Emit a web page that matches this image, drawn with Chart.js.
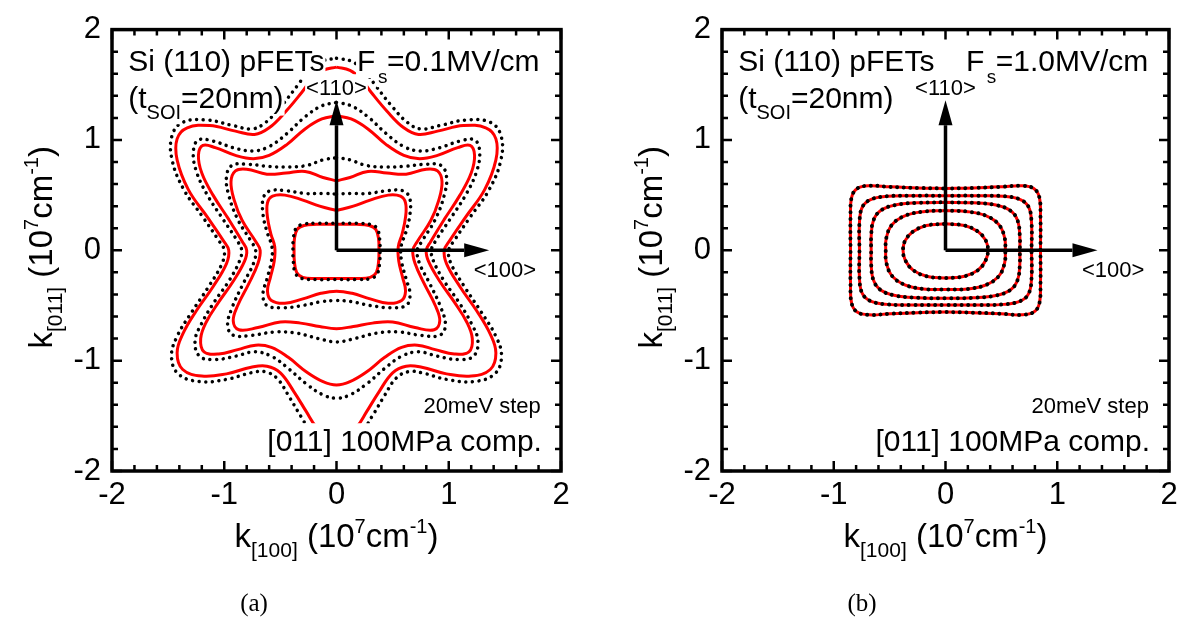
<!DOCTYPE html>
<html>
<head>
<meta charset="utf-8">
<script src="https://cdn.jsdelivr.net/npm/chart.js@4.4.1/dist/chart.umd.min.js"></script>
<style>
  html, body { margin: 0; padding: 0; background: #fff; }
  #wrap { position: relative; width: 1184px; height: 624px; }
  .pane { position: absolute; top: 0; }
  .cap { position: absolute; top: 589px; width: 80px; text-align: center;
         font: 25px "Liberation Serif", "DejaVu Serif", serif; color: #000; }
</style>
</head>
<body>
<div id="wrap">
  <canvas id="chartA" class="pane" style="left:0" width="600" height="624"></canvas>
  <canvas id="chartB" class="pane" style="left:600px" width="584" height="624"></canvas>
  <div class="cap" style="left:214px">(a)</div>
  <div class="cap" style="left:822px">(b)</div>
</div>
<script>
// right halves of each constant-energy contour, [k100, k011]
// (top of the contour at k100 = 0 down to its bottom; the left half is the mirror image)

// (a) Fs = 0.1MV/cm, solid red
const redA1 = [[0,0.235],[0.18,0.235],[0.29,0.225],[0.35,0.19],[0.375,0.1],[0.378,0],[0.375,-0.1],[0.355,-0.2],[0.3,-0.245],[0.18,-0.255],[0,-0.255]];
const redA2 = [[0,0.36],[0.15,0.40],[0.30,0.455],[0.46,0.50],[0.57,0.49],[0.615,0.43],[0.615,0.30],[0.585,0.15],[0.55,0.03],[0.555,-0.1],[0.59,-0.25],[0.615,-0.37],[0.58,-0.455],[0.46,-0.48],[0.30,-0.44],[0.14,-0.39],[0,-0.37]];
const redA3 = [[0,0.63],[0.12,0.66],[0.28,0.715],[0.45,0.70],[0.62,0.69],[0.8,0.735],[0.9,0.72],[0.94,0.62],[0.91,0.45],[0.84,0.27],[0.72,0.08],[0.68,0],[0.70,-0.12],[0.78,-0.3],[0.88,-0.5],[0.92,-0.64],[0.87,-0.72],[0.7,-0.7],[0.5,-0.65],[0.32,-0.66],[0.15,-0.69],[0,-0.71]];
const redA4 = [[0,1.22],[0.13,1.19],[0.28,1.1],[0.44,0.96],[0.6,0.86],[0.74,0.83],[0.9,0.86],[1.08,0.93],[1.19,0.95],[1.23,0.86],[1.2,0.7],[1.1,0.5],[0.96,0.28],[0.84,0.08],[0.8,0],[0.82,-0.1],[0.92,-0.28],[1.05,-0.47],[1.16,-0.65],[1.21,-0.8],[1.18,-0.92],[1.05,-0.94],[0.88,-0.9],[0.72,-0.86],[0.58,-0.88],[0.43,-0.97],[0.27,-1.1],[0.12,-1.19],[0,-1.22]];
const redA5 = [[0,1.66],[0.12,1.63],[0.22,1.55],[0.31,1.43],[0.45,1.26],[0.6,1.11],[0.73,1.05],[0.9,1.08],[1.13,1.13],[1.33,1.11],[1.42,1.01],[1.42,0.82],[1.32,0.55],[1.15,0.3],[1.01,0.09],[0.96,0],[0.98,-0.12],[1.1,-0.33],[1.25,-0.55],[1.37,-0.76],[1.42,-0.93],[1.37,-1.08],[1.2,-1.14],[0.98,-1.12],[0.76,-1.06],[0.62,-1.05],[0.5,-1.11],[0.38,-1.28],[0.27,-1.46],[0.18,-1.6],[0.08,-1.66],[0,-1.67]];

// (a) dotted black
const dotA1 = [[0,0.245],[0.18,0.245],[0.3,0.235],[0.36,0.2],[0.385,0.1],[0.388,0],[0.385,-0.1],[0.365,-0.21],[0.31,-0.255],[0.18,-0.265],[0,-0.265]];
const dotA2 = [[0,0.51],[0.12,0.515],[0.28,0.515],[0.45,0.54],[0.59,0.54],[0.65,0.48],[0.655,0.33],[0.62,0.17],[0.575,0.03],[0.58,-0.1],[0.62,-0.26],[0.655,-0.4],[0.62,-0.5],[0.47,-0.52],[0.3,-0.5],[0.13,-0.465],[0,-0.455]];
const dotA3 = [[0,0.84],[0.12,0.82],[0.26,0.77],[0.42,0.755],[0.6,0.76],[0.8,0.78],[0.93,0.77],[0.98,0.67],[0.96,0.5],[0.88,0.28],[0.76,0.08],[0.72,0],[0.74,-0.12],[0.83,-0.3],[0.93,-0.52],[0.97,-0.68],[0.92,-0.77],[0.75,-0.77],[0.55,-0.74],[0.36,-0.75],[0.16,-0.8],[0,-0.83]];
const dotA4 = [[0,1.34],[0.13,1.31],[0.28,1.21],[0.44,1.06],[0.6,0.94],[0.75,0.9],[0.92,0.93],[1.1,0.99],[1.23,1.0],[1.275,0.9],[1.25,0.72],[1.15,0.5],[1.01,0.28],[0.88,0.08],[0.845,0],[0.865,-0.1],[0.96,-0.28],[1.09,-0.47],[1.2,-0.66],[1.26,-0.82],[1.22,-0.96],[1.08,-0.99],[0.9,-0.96],[0.73,-0.92],[0.58,-0.96],[0.43,-1.07],[0.27,-1.21],[0.12,-1.31],[0,-1.34]];
const dotA5 = [[0,1.74],[0.14,1.71],[0.26,1.61],[0.35,1.49],[0.49,1.31],[0.63,1.16],[0.75,1.1],[0.92,1.13],[1.15,1.18],[1.37,1.16],[1.465,1.04],[1.465,0.82],[1.36,0.55],[1.19,0.3],[1.05,0.09],[1.0,0],[1.02,-0.12],[1.14,-0.33],[1.29,-0.56],[1.42,-0.78],[1.47,-0.96],[1.41,-1.12],[1.22,-1.19],[0.98,-1.17],[0.76,-1.11],[0.64,-1.1],[0.53,-1.16],[0.42,-1.33],[0.32,-1.5],[0.22,-1.65],[0.1,-1.72],[0,-1.74]];

// (b) Fs = 1.0MV/cm, red and dotted lie on top of each other
const curB1 = [[0,0.24],[0.17,0.225],[0.29,0.17],[0.36,0.09],[0.38,0],[0.36,-0.09],[0.29,-0.18],[0.17,-0.235],[0,-0.25]];
const curB2 = [[0,0.36],[0.2,0.35],[0.37,0.31],[0.48,0.23],[0.53,0.11],[0.535,0],[0.53,-0.11],[0.48,-0.23],[0.37,-0.31],[0.2,-0.35],[0,-0.355]];
const curB3 = [[0,0.435],[0.25,0.43],[0.45,0.41],[0.58,0.36],[0.645,0.27],[0.665,0.13],[0.665,0],[0.665,-0.13],[0.645,-0.27],[0.58,-0.36],[0.45,-0.41],[0.25,-0.43],[0,-0.435]];
const curB4 = [[0,0.495],[0.3,0.495],[0.52,0.49],[0.67,0.46],[0.745,0.39],[0.77,0.25],[0.77,0],[0.77,-0.25],[0.745,-0.39],[0.67,-0.46],[0.52,-0.49],[0.3,-0.495],[0,-0.495]];
const curB5 = [[0,0.56],[0.25,0.565],[0.5,0.575],[0.68,0.585],[0.79,0.56],[0.84,0.48],[0.85,0.3],[0.85,0],[0.85,-0.3],[0.84,-0.48],[0.79,-0.56],[0.68,-0.585],[0.5,-0.575],[0.25,-0.565],[0,-0.56]];

// axis range and ticks
const axisMin = -2, axisMax = 2, majorStep = 1, minorStep = 0.2;
// crystal direction arrows (tip of each, from the origin)
const arrowTips = [[0, 1.36], [1.36, 0]];

const fieldA = '=0.1MV/cm';
const fieldB = '=1.0MV/cm';

const FONT = '"Liberation Sans", Arial, sans-serif';

// mirror a right half into a closed loop
function loop(half) {
  const right = half.map(p => ({x: p[0], y: p[1]}));
  const left = half.slice(0, -1).reverse().map(p => ({x: -p[0], y: p[1]}));
  return right.concat(left);
}

function redSet(half) {
  return { data: loop(half), showLine: true, pointRadius: 0, borderColor: '#ff0000',
           borderWidth: 3, tension: 0.4, fill: false };
}
function dotSet(half, w) {
  return { data: loop(half), showLine: true, pointRadius: 0, borderColor: '#000',
           borderWidth: w, borderDash: [0.01, 6.6], borderCapStyle: 'round', tension: 0.4, fill: false };
}

// text made of runs: [text, size, dy]
function drawRich(ctx, parts, x, y, align, bg) {
  let w = 0;
  const ws = parts.map(p => {
    ctx.font = p[1] + 'px ' + FONT;
    const m = ctx.measureText(p[0]).width;
    w += m;
    return m;
  });
  let cx = align === 'center' ? x - w / 2 : align === 'right' ? x - w : x;
  const x0 = cx;
  if (bg) {
    ctx.fillStyle = '#fff';
    parts.forEach((p, i) => {
      ctx.fillRect(cx - 1, y + p[2] - p[1] * 0.93, ws[i] + 2, p[1] * 1.17);
      cx += ws[i];
    });
    cx = x0;
  }
  ctx.fillStyle = '#000';
  ctx.textBaseline = 'alphabetic';
  ctx.textAlign = 'left';
  parts.forEach((p, i) => {
    ctx.font = p[1] + 'px ' + FONT;
    ctx.fillText(p[0], cx, y + p[2]);
    cx += ws[i];
  });
}

const decor = {
  id: 'decor',
  afterDatasetsDraw(chart, args, opts) {
    const {ctx, chartArea: a, scales: {x, y}} = chart;
    ctx.save();
    // arrows
    const ox = x.getPixelForValue(0), oy = y.getPixelForValue(0);
    ctx.strokeStyle = '#000';
    ctx.fillStyle = '#000';
    ctx.lineWidth = 3.5;
    arrowTips.forEach(t => {
      const tx = x.getPixelForValue(t[0]), ty = y.getPixelForValue(t[1]);
      const dx = tx - ox, dy = ty - oy, len = Math.hypot(dx, dy);
      const ux = dx / len, uy = dy / len, head = 25, hw = 7;
      ctx.beginPath();
      ctx.moveTo(ox, oy);
      ctx.lineTo(tx - ux * head, ty - uy * head);
      ctx.stroke();
      ctx.beginPath();
      ctx.moveTo(tx, ty);
      ctx.lineTo(tx - ux * head - uy * hw, ty - uy * head + ux * hw);
      ctx.lineTo(tx - ux * head + uy * hw, ty - uy * head - ux * hw);
      ctx.closePath();
      ctx.fill();
    });
    // annotations
    opts.notes.forEach(n => {
      drawRich(ctx, n.parts, x.getPixelForValue(n.x), y.getPixelForValue(n.y), n.align || 'left', true);
    });
    ctx.restore();
  },
  afterDraw(chart) {
    const {ctx, chartArea: a, scales: {x, y}} = chart;
    ctx.save();
    ctx.strokeStyle = '#000';
    ctx.lineWidth = 2.5;
    const n = Math.round((axisMax - axisMin) / minorStep);
    for (let i = 0; i <= n; i++) {
      const v = axisMin + i * minorStep;
      const major = Math.abs(v / majorStep - Math.round(v / majorStep)) < 1e-6;
      const L = major ? 10 : 6;
      const px = x.getPixelForValue(v), py = y.getPixelForValue(v);
      ctx.beginPath();
      ctx.moveTo(px, a.bottom); ctx.lineTo(px, a.bottom - L);
      ctx.moveTo(px, a.top); ctx.lineTo(px, a.top + L);
      ctx.moveTo(a.left, py); ctx.lineTo(a.left + L, py);
      ctx.moveTo(a.right, py); ctx.lineTo(a.right - L, py);
      ctx.stroke();
    }
    ctx.lineWidth = 3.5;
    ctx.strokeRect(a.left, a.top, a.right - a.left, a.bottom - a.top);
    // axis titles
    const cxm = (a.left + a.right) / 2, cym = (a.top + a.bottom) / 2;
    drawRich(ctx, [['k', 33, 0], ['[100]', 21, 10], [' (10', 33, 0], ['7', 20, -14], ['cm', 33, 0], ['-1', 20, -14], [')', 33, 0]],
             cxm, a.bottom + 76, 'center', false);
    ctx.translate(a.left - 60, cym - 3);
    ctx.rotate(-Math.PI / 2);
    drawRich(ctx, [['k', 33, 0], ['[011]', 21, 10], [' (10', 33, 0], ['7', 20, -14], ['cm', 33, 0], ['-1', 20, -14], [')', 33, 0]],
             0, 0, 'center', false);
    ctx.restore();
  }
};

function notes(field) {
  return [
    {x: -1.855, y: 1.625, parts: [['Si (110) pFETs', 30, 0]]},
    {x: 0.183, y: 1.625, parts: [['F', 30, 0]]},
    {x: 0.37, y: 1.52, parts: [['s', 19, 0]]},
    {x: 0.45, y: 1.625, parts: [[field, 30, 0]]},
    {x: -1.855, y: 1.286, parts: [['(t', 30, 0], ['SOI', 20, 11], ['=20nm)', 30, 0]]},
    {x: 0, y: 1.41, align: 'center', parts: [['<110>', 22, 0]]},
    {x: 1.5, y: -0.24, align: 'center', parts: [['<100>', 22, 0]]},
    {x: 1.82, y: -1.47, align: 'right', parts: [['20meV step', 22, 0]]},
    {x: 1.83, y: -1.82, align: 'right', parts: [['[011] 100MPa comp.', 30, 0]]}
  ];
}

function makeChart(id, datasets, leftW, rightPad, field) {
  const tickFont = {family: FONT, size: 31};
  return new Chart(document.getElementById(id), {
    type: 'scatter',
    data: {datasets: datasets},
    options: {
      responsive: false,
      animation: false,
      layout: {padding: {left: 0, right: rightPad, top: 23, bottom: 0}},
      plugins: {legend: {display: false}, tooltip: {enabled: false}, decor: {notes: notes(field)}},
      scales: {
        x: {type: 'linear', min: axisMin, max: axisMax,
            ticks: {stepSize: majorStep, font: tickFont, color: '#000', padding: 6, maxRotation: 0},
            grid: {display: false, drawTicks: false}, border: {display: false},
            afterFit: s => { s.height = 153; }},
        y: {type: 'linear', min: axisMin, max: axisMax,
            ticks: {stepSize: majorStep, font: tickFont, color: '#000', padding: 11},
            grid: {display: false, drawTicks: false}, border: {display: false},
            afterFit: s => { s.width = leftW; }}
      }
    },
    plugins: [decor]
  });
}

const setsA = [dotA1, dotA2, dotA3, dotA4, dotA5].map(h => dotSet(h, 3.5))
  .concat([redA1, redA2, redA3, redA4, redA5].map(redSet));
const curvesB = [curB1, curB2, curB3, curB4, curB5];
const setsB = curvesB.map(h => dotSet(h, 4)).concat(curvesB.map(redSet));

makeChart('chartA', setsA, 112, 39, fieldA);
makeChart('chartB', setsB, 122, 15, fieldB);
</script>
</body>
</html>
